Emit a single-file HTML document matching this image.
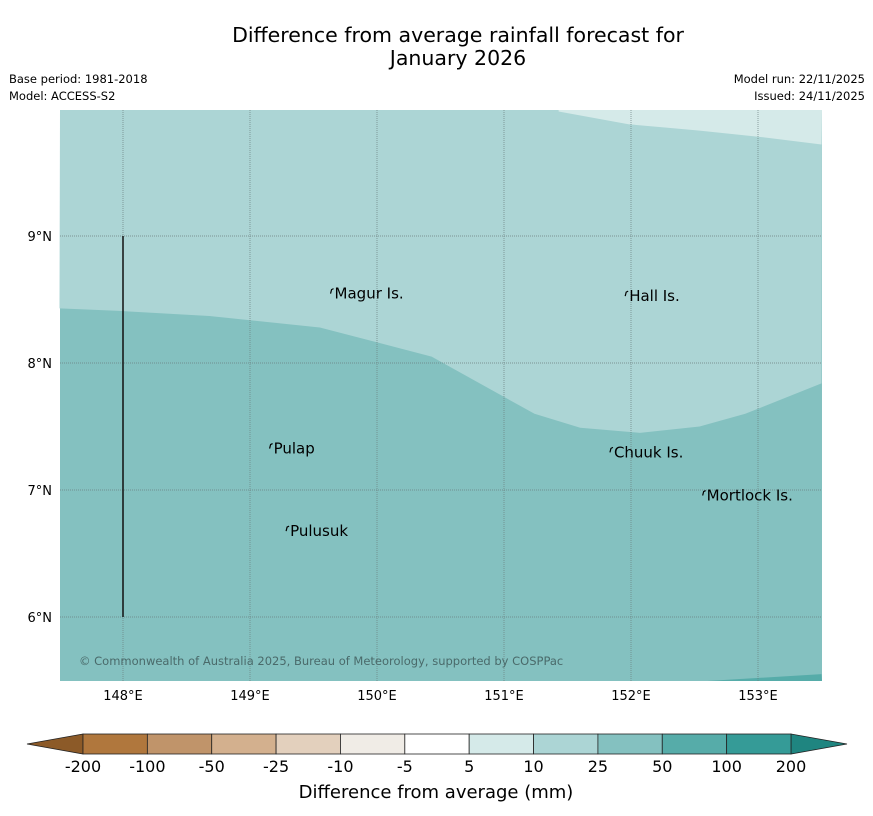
<!DOCTYPE html>
<html><head><meta charset="utf-8"><style>
body{margin:0;background:#fff;font-family:"DejaVu Sans","Liberation Sans",sans-serif;}
#wrap{position:relative;width:873px;height:816px;overflow:hidden;}
</style></head><body>
<div id="wrap">
<svg id="svg" width="873" height="816" xmlns="http://www.w3.org/2000/svg" font-family="DejaVu Sans, Liberation Sans, sans-serif">
<text x="458" y="42" text-anchor="middle" font-size="20.5">Difference from average rainfall forecast for</text>
<text x="458" y="65" text-anchor="middle" font-size="20.5">January 2026</text>
<text x="9" y="83" font-size="11.5">Base period: 1981-2018</text>
<text x="9" y="100" font-size="11.5">Model: ACCESS-S2</text>
<text x="865" y="83" font-size="11.5" text-anchor="end">Model run: 22/11/2025</text>
<text x="865" y="100" font-size="11.5" text-anchor="end">Issued: 24/11/2025</text>
<g id="map"></g>
<g id="cbar"></g>
<text x="436" y="798" text-anchor="middle" font-size="18">Difference from average (mm)</text>
</svg>
</div>
<script>
// map extent (degrees)
const lonMin=147.5, lonMax=153.5, latMin=5.5, latMax=9.98;
const lonTicks=[148,149,150,151,152,153];
const latTicks=[6,7,8,9];
// contour boundary between 10-25 and 25-50 bands [lon,lat]
const boundary25=[[147.5,8.43],[147.97,8.41],[148.68,8.37],[149.55,8.28],[150.43,8.05],[151.24,7.60],[151.6,7.49],[152.07,7.45],[152.54,7.5],[152.9,7.6],[153.5,7.84]];
// contour boundary between 5-10 and 10-25 bands
const boundary10=[[151.43,9.98],[151.98,9.88],[152.54,9.83],[153.02,9.78],[153.5,9.72]];
// 50-100 corner patch
const boundary50=[[152.6,5.5],[153.5,5.55]];
const places=[["Magur Is.",149.65,8.57],["Hall Is.",151.97,8.55],["Pulap",149.17,7.35],["Chuuk Is.",151.85,7.32],["Mortlock Is.",152.58,6.98],["Pulusuk",149.3,6.7]];
const cbLabels=["-200","-100","-50","-25","-10","-5","5","10","25","50","100","200"];
const cbColors=["#b0773d","#c0946a","#d3b08e","#e3d0bd","#f0ece6","#ffffff","#d5eae9","#acd5d5","#84c1c0","#56aca9","#359b97"];
const NS="http://www.w3.org/2000/svg";
const X0=60,X1=822,Y0=110,Y1=681;
const xs=l=>123+(l-148)*127, ys=a=>236-(a-9)*127;
function mk(t,a,p){const e=document.createElementNS(NS,t);for(const k in a)e.setAttribute(k,a[k]);p.appendChild(e);return e;}
const map=document.getElementById('map');
let r=mk('rect',{x:X0,y:Y0,width:X1-X0,height:Y1-Y0,fill:'#84c1c0'},map);


let d='M'+X0+','+Y0+' '+boundary25.map(p=>'L'+xs(p[0])+','+ys(p[1])).join(' ')+' L'+X1+','+Y0+'Z';
let p1=mk('path',{d:d,fill:'#acd5d5'},map);


d='M'+xs(boundary10[0][0])+','+Y0+' '+boundary10.map(p=>'L'+xs(p[0])+','+ys(p[1])).join(' ')+' L'+X1+','+Y0+'Z';
let p2=mk('path',{d:d,fill:'#d5eae9'},map);


d='M'+xs(boundary50[0][0])+','+Y1+' L'+xs(boundary50[1][0])+','+ys(boundary50[1][1])+' L'+X1+','+Y1+'Z';
let p3=mk('path',{d:d,fill:'#56aca9'},map);


lonTicks.forEach(l=>{const x=xs(l);
 let g=mk('line',{x1:x,x2:x,y1:Y0,y2:Y1,stroke:'#6b7f7f','stroke-width':0.7,'stroke-dasharray':'1,1'},map);
 
 
 let t=mk('text',{x:x,y:700,'text-anchor':'middle','font-size':13},map);t.textContent=l+'°E';
 
 });
latTicks.forEach(a=>{const y=ys(a);
 let g=mk('line',{x1:X0,x2:X1,y1:y,y2:y,stroke:'#6b7f7f','stroke-width':0.7,'stroke-dasharray':'1,1'},map);
 
 
 let t=mk('text',{x:52,y:y+5,'text-anchor':'end','font-size':13},map);t.textContent=a+'°N';
 
 });
let vl=mk('line',{x1:xs(148),x2:xs(148),y1:ys(9),y2:ys(6),stroke:'#111','stroke-width':1.5},map);


places.forEach(p=>{const x=xs(p[1]),y=ys(p[2]);
 let m=mk('path',{d:'M'+(x-2)+','+(y+3)+' l1,-4 l2,-1',stroke:'#000',fill:'none','stroke-width':1.2},map);
 
 
 let t=mk('text',{x:x+2,y:y+8,'font-size':15},map);t.textContent=p[0];
 
 });
let cp=mk('text',{x:79,y:665,'font-size':11.5,fill:'#4a6a6a'},map);cp.textContent='© Commonwealth of Australia 2025, Bureau of Meteorology, supported by COSPPac';


// colorbar
const cb=document.getElementById('cbar');
const cx0=83,cx1=791,cy0=734,cy1=754,w=(cx1-cx0)/cbColors.length;
let lt=mk('path',{d:`M${cx0},${cy0} L27,744 L${cx0},${cy1}Z`,fill:'#8c5a28',stroke:'#222','stroke-width':0.8},cb);


let rt=mk('path',{d:`M${cx1},${cy0} L847,744 L${cx1},${cy1}Z`,fill:'#1f8580',stroke:'#222','stroke-width':0.8},cb);


cbColors.forEach((c,i)=>{let b=mk('rect',{x:cx0+i*w,y:cy0,width:w,height:cy1-cy0,fill:c,stroke:'#222','stroke-width':0.8},cb);
 
 });
cbLabels.forEach((s,i)=>{let t=mk('text',{x:cx0+i*w,y:772,'text-anchor':'middle','font-size':16},cb);t.textContent=s;
 
 });
</script>
</body></html>
